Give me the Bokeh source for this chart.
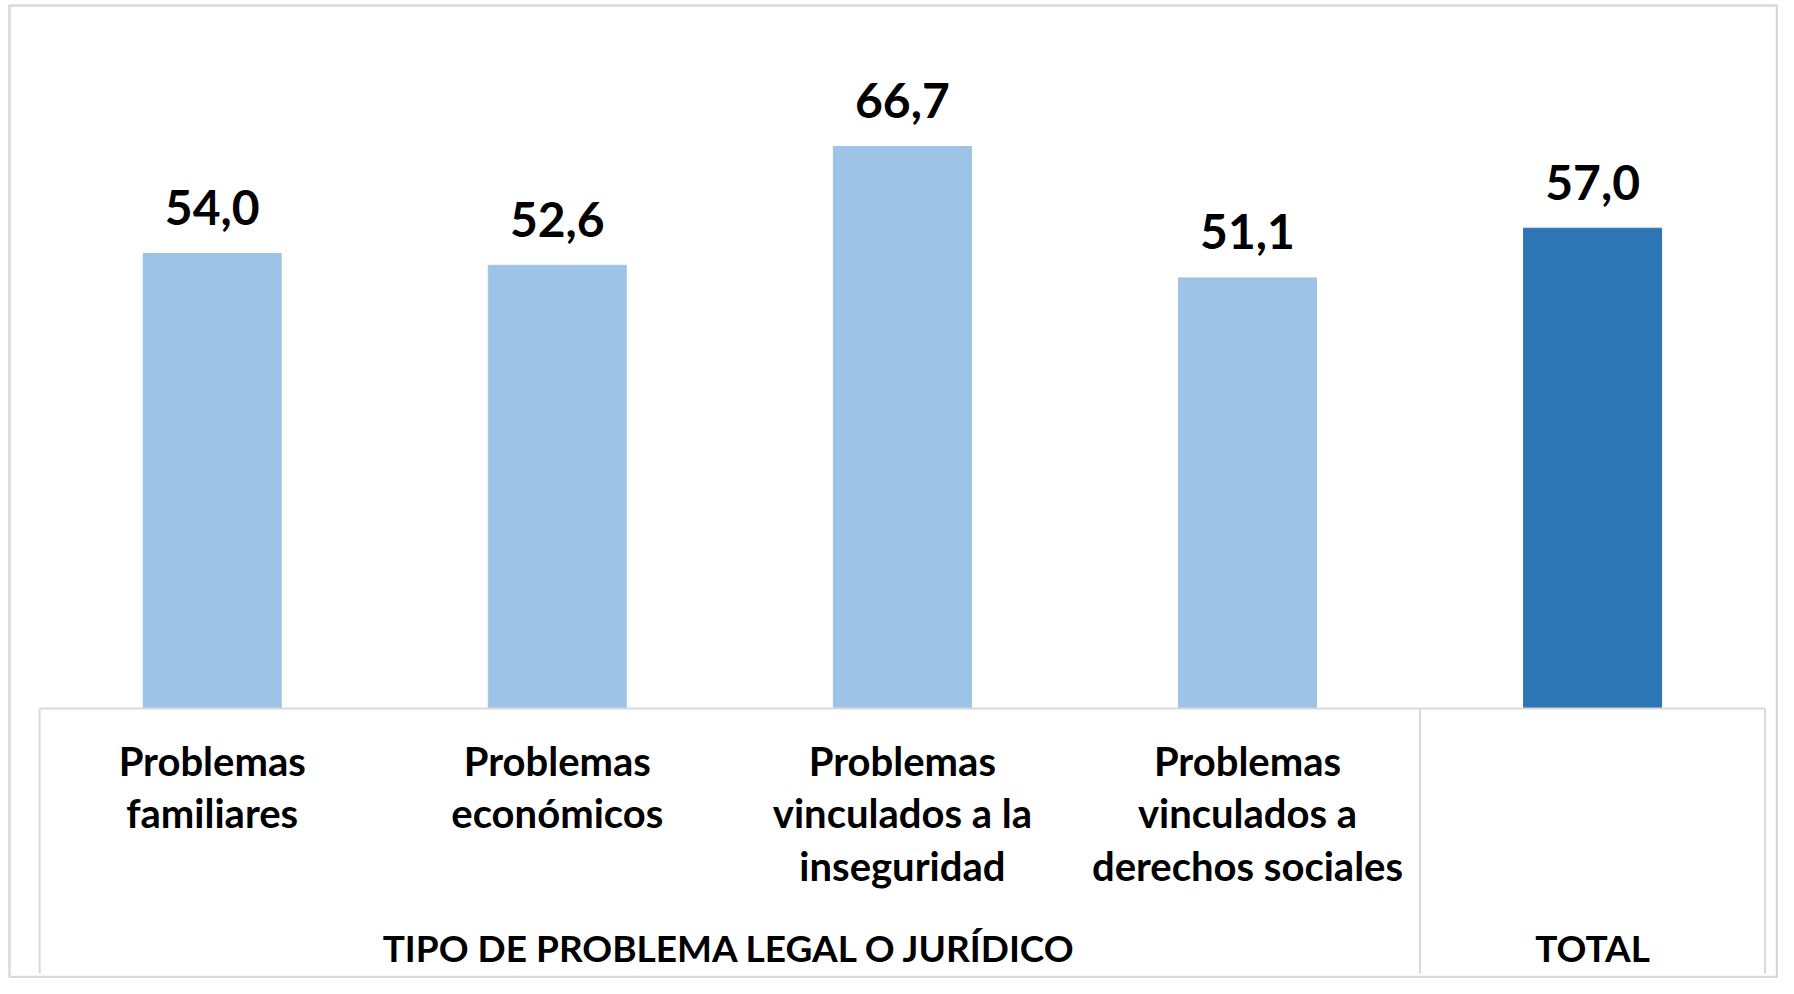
from bokeh.plotting import figure
from bokeh.models import ColumnDataSource, Range1d
from bokeh.core.properties import value
from bokeh.embed import file_html
from bokeh.resources import INLINE

# ---- data ----
categories = [
    "Problemas\nfamiliares",
    "Problemas\neconómicos",
    "Problemas\nvinculados a la\ninseguridad",
    "Problemas\nvinculados a\nderechos sociales",
    "",
]
values = [54.0, 52.6, 66.7, 51.1, 57.0]
is_total = [False, False, False, False, True]
group_labels = ["TIPO DE PROBLEMA LEGAL O JURÍDICO", "TOTAL"]
group_spans = [(0, 3), (4, 4)]

# ---- style ----
LIGHT = "#9DC3E6"
DARK = "#2E75B6"
GRID = "#D9D9D9"
FONT = "Lato"

W, H = 1778, 978
PX_PER_UNIT_Y = 8.426
BASE_PX = 708          # canvas y of value 0
CAT_PX = 345.1
FIRST_CENTER_PX = 211.7
BASELINE_FIX = 0.4     # em, renderer places alphabetic baseline lower


def dx(px):
    return (px - FIRST_CENTER_PX) / CAT_PX


def dy(py):
    return (BASE_PX - py) / PX_PER_UNIT_Y


p = figure(width=W, height=H, output_backend="svg", toolbar_location=None,
           x_range=Range1d(dx(0), dx(W)), y_range=Range1d(dy(H), dy(0)),
           min_border=0, min_border_left=0, min_border_right=0,
           min_border_top=0, min_border_bottom=0)
p.xaxis.visible = False
p.yaxis.visible = False
p.grid.visible = False
p.outline_line_color = None
p.background_fill_color = "white"
p.border_fill_color = "white"

# outer chart border
p.quad(left=[dx(9)], right=[dx(W - 1.5)], top=[dy(5)], bottom=[dy(H - 1.5)],
       fill_color=None, line_color=GRID, line_width=2.5)

idx = list(range(len(values)))
colors = [DARK if t else LIGHT for t in is_total]
src = ColumnDataSource(dict(x=idx, top=values, color=colors,
                            label=[f"{v:.1f}".replace(".", ",") for v in values]))

p.vbar(x="x", top="top", bottom=0, width=0.4, color="color", source=src)

VAL_FS = 48
p.text(x="x", y="top", text="label", source=src, y_offset=-27 - BASELINE_FIX * VAL_FS,
       text_align="center", text_baseline="alphabetic",
       text_font=value(FONT), text_font_style="bold", text_font_size=f"{VAL_FS}px",
       text_color="black")

# table lines
tbl_bottom = dy(973)
p.segment(x0=[-0.5], y0=[0], x1=[len(values) - 0.5], y1=[0], line_color=GRID, line_width=2)
seps = [-0.5] + [s[1] + 0.5 for s in group_spans]
p.segment(x0=seps, y0=[0] * len(seps), x1=seps, y1=[tbl_bottom] * len(seps),
          line_color=GRID, line_width=2)

# category labels (top aligned lines)
CAT_FS = 40
line_px = 52.5
first_off = 68 - BASELINE_FIX * CAT_FS
xs, ys, ts, offs = [], [], [], []
for i, c in enumerate(categories):
    for j, ln in enumerate(c.split("\n")):
        if ln:
            xs.append(i); ys.append(0); ts.append(ln); offs.append(first_off + j * line_px)
p.text(x=xs, y=ys, text=ts, y_offset=offs, text_align="center", text_baseline="alphabetic",
       text_font=value(FONT), text_font_style="bold", text_font_size=f"{CAT_FS}px",
       text_color="black")

GRP_FS = 37
gx = [(a + b) / 2 for a, b in group_spans]
p.text(x=gx, y=[0] * len(gx), text=group_labels, y_offset=254 - BASELINE_FIX * GRP_FS,
       text_align="center", text_baseline="alphabetic", text_font=value(FONT),
       text_font_style="bold", text_font_size=f"{GRP_FS}px", text_color="black")

open("out.html", "w").write(file_html(p, INLINE))
